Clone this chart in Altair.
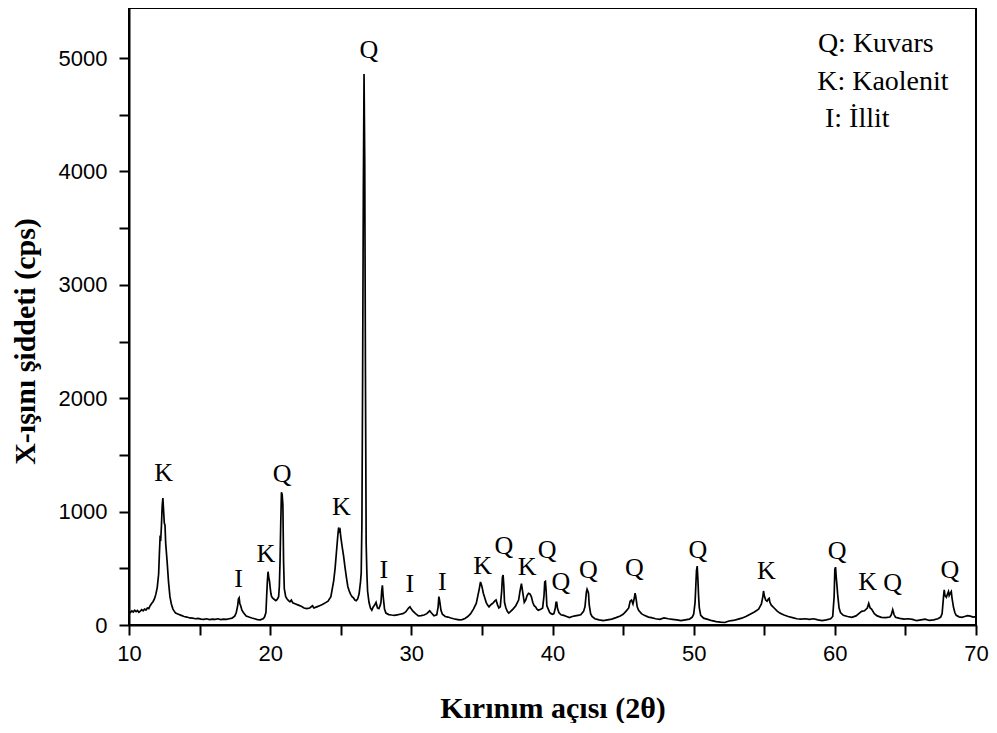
import altair as alt
import pandas as pd

# ---- XRD trace ----
two_theta = [
    10.0, 10.1, 10.2, 10.3, 10.4, 10.5, 10.6, 10.7, 10.8, 10.9, 11.0, 11.1, 11.2, 11.3, 11.4, 11.5,
    11.6, 11.7, 11.8, 11.9, 12.0, 12.1, 12.15, 12.2, 12.25, 12.3, 12.35, 12.4, 12.45, 12.5, 12.55,
    12.6, 12.7, 12.8, 12.9, 13.0, 13.1, 13.2, 13.3, 13.5, 13.7, 13.9, 14.1, 14.3, 14.5, 14.7, 14.9,
    15.1, 15.3, 15.5, 15.7, 15.9, 16.1, 16.3, 16.5, 16.7, 16.9, 17.1, 17.3, 17.5, 17.6, 17.7, 17.75,
    17.8, 17.85, 17.9, 18.0, 18.1, 18.2, 18.3, 18.5, 18.7, 18.9, 19.1, 19.3, 19.5, 19.6, 19.7, 19.75,
    19.8, 19.85, 19.9, 19.95, 20.0, 20.05, 20.1, 20.2, 20.3, 20.4, 20.5, 20.6, 20.65, 20.7, 20.75,
    20.8, 20.85, 20.9, 20.95, 21.0, 21.1, 21.2, 21.3, 21.4, 21.5, 21.6, 21.8, 22.0, 22.2, 22.4, 22.6,
    22.8, 23.0, 23.1, 23.3, 23.5, 23.7, 23.9, 24.1, 24.3, 24.5, 24.6, 24.7, 24.8, 24.85, 24.9, 24.95,
    25.0, 25.1, 25.2, 25.3, 25.4, 25.5, 25.6, 25.7, 25.8, 25.9, 26.0, 26.1, 26.2, 26.3, 26.4, 26.45,
    26.5, 26.55, 26.6, 26.65, 26.7, 26.75, 26.8, 26.85, 26.9, 27.0, 27.1, 27.2, 27.3, 27.4, 27.5,
    27.6, 27.7, 27.8, 27.85, 27.9, 27.95, 28.0, 28.05, 28.1, 28.2, 28.4, 28.6, 28.8, 29.0, 29.2,
    29.4, 29.6, 29.8, 29.9, 30.0, 30.1, 30.3, 30.5, 30.7, 30.9, 31.1, 31.3, 31.4, 31.6, 31.8, 31.9,
    31.95, 32.0, 32.1, 32.2, 32.4, 32.6, 32.8, 33.0, 33.2, 33.4, 33.6, 33.8, 34.0, 34.2, 34.4, 34.6,
    34.7, 34.8, 34.9, 35.0, 35.1, 35.2, 35.3, 35.4, 35.5, 35.6, 35.7, 35.8, 35.9, 36.0, 36.1, 36.2,
    36.3, 36.4, 36.45, 36.5, 36.55, 36.6, 36.7, 36.8, 36.9, 37.0, 37.2, 37.4, 37.6, 37.7, 37.8, 37.9,
    38.0, 38.1, 38.2, 38.3, 38.4, 38.5, 38.6, 38.7, 38.8, 38.9, 39.0, 39.2, 39.3, 39.4, 39.45, 39.5,
    39.55, 39.6, 39.7, 39.8, 39.9, 40.0, 40.1, 40.2, 40.25, 40.3, 40.35, 40.45, 40.6, 40.8, 41.0,
    41.2, 41.4, 41.6, 41.8, 42.0, 42.2, 42.3, 42.4, 42.45, 42.5, 42.55, 42.6, 42.7, 42.8, 43.0, 43.3,
    43.6, 43.9, 44.2, 44.5, 44.8, 45.0, 45.2, 45.4, 45.5, 45.6, 45.7, 45.8, 45.85, 45.9, 46.0, 46.1,
    46.3, 46.5, 46.8, 47.0, 47.3, 47.6, 47.9, 48.2, 48.5, 48.8, 49.1, 49.4, 49.7, 49.9, 50.0, 50.1,
    50.15, 50.2, 50.25, 50.3, 50.35, 50.4, 50.5, 50.7, 51.0, 51.3, 51.6, 51.9, 52.2, 52.5, 52.8,
    53.1, 53.4, 53.7, 54.0, 54.3, 54.6, 54.8, 54.9, 54.95, 55.0, 55.1, 55.2, 55.3, 55.35, 55.4, 55.5,
    55.7, 55.9, 56.1, 56.4, 56.7, 57.0, 57.3, 57.6, 57.9, 58.2, 58.5, 58.8, 59.1, 59.4, 59.7, 59.85,
    59.95, 60.0, 60.05, 60.1, 60.15, 60.2, 60.3, 60.4, 60.6, 60.9, 61.2, 61.5, 61.7, 61.9, 62.1,
    62.3, 62.4, 62.5, 62.6, 62.8, 63.0, 63.3, 63.6, 63.9, 64.0, 64.1, 64.2, 64.3, 64.6, 64.9, 65.2,
    65.5, 65.8, 66.1, 66.4, 66.7, 67.0, 67.3, 67.5, 67.6, 67.7, 67.75, 67.8, 67.9, 68.0, 68.05,
    68.1, 68.2, 68.25, 68.3, 68.4, 68.5, 68.6, 68.8, 69.0, 69.2, 69.4, 69.6, 69.8, 70.0,
]
intensity = [
    120, 110, 125, 115, 130, 118, 128, 112, 122, 135, 125, 140, 132, 150, 145, 170,
    190, 205, 230, 270, 330, 450, 620, 770, 760, 880, 1050, 1120, 1010, 900, 880,
    720, 560, 380, 250, 185, 145, 122, 105, 95, 85, 75, 70, 62, 60, 55, 58,
    52, 50, 55, 48, 52, 50, 55, 48, 52, 50, 55, 60, 80, 110, 170, 230,
    240, 190, 175, 130, 110, 95, 80, 70, 62, 55, 48, 45, 55, 70, 110, 250,
    380, 470, 420, 390, 330, 280, 250, 235, 225, 215, 225, 250, 340, 560, 900,
    1170, 1150, 1060, 560, 320, 250, 230, 215, 205, 220, 195, 185, 175, 165, 150, 145,
    150, 170, 150, 160, 170, 180, 195, 210, 250, 390, 500, 650, 800, 860, 830, 840,
    780, 690, 610, 510, 420, 340, 300, 270, 250, 240, 220, 215, 230, 275, 380, 460,
    900, 2200, 3800, 4860, 4080, 2200, 720, 460, 300, 200, 150, 130, 160, 175, 200,
    150, 145, 175, 200, 300, 350, 260, 200, 140, 105, 92, 88, 85, 90, 95,
    100, 115, 150, 160, 140, 125, 100, 80, 82, 88, 100, 125, 110, 82, 90, 160,
    250, 220, 130, 95, 75, 70, 62, 55, 50, 45, 48, 58, 75, 100, 140, 190,
    250, 310, 380, 340, 280, 240, 200, 175, 160, 175, 185, 195, 210, 220, 180, 150,
    160, 300, 420, 440, 350, 200, 150, 120, 105, 115, 140, 170, 220, 300, 365, 280,
    200, 220, 260, 280, 275, 250, 200, 170, 160, 140, 130, 140, 150, 260, 380, 385,
    300, 170, 140, 110, 100, 95, 100, 150, 200, 200, 150, 110, 90, 85, 75,
    65, 75, 80, 85, 90, 120, 160, 290, 315, 300, 280, 180, 100, 75, 55, 45,
    38, 45, 52, 65, 80, 95, 120, 150, 210, 220, 185, 240, 280, 250, 160, 130,
    100, 85, 70, 65, 55, 50, 62, 55, 50, 45, 38, 45, 52, 70, 95, 200,
    340, 480, 520, 400, 250, 150, 85, 60, 50, 38, 30, 25, 22, 35, 40,
    50, 60, 75, 95, 115, 140, 185, 250, 300, 260, 220, 210, 230, 235, 200, 175,
    150, 125, 105, 88, 75, 65, 55, 52, 55, 50, 55, 45, 38, 45, 55, 75,
    250, 490, 510, 420, 350, 270, 150, 110, 85, 75, 68, 80, 100, 120, 125,
    150, 190, 150, 140, 100, 80, 68, 65, 70, 90, 135, 90, 68, 58, 52, 55,
    50, 38, 45, 52, 40, 45, 55, 70, 100, 250, 310, 260, 245, 280, 295,
    260, 285, 295, 240, 160, 110, 85, 72, 68, 75, 82, 78, 70, 74,
]

# ---- phase labels over the peaks ----
label_text = ["K", "I", "K", "Q", "K", "Q", "I", "I", "I", "K", "Q",
              "K", "Q", "Q", "Q", "Q", "Q", "K", "Q", "K", "Q", "Q"]
label_x = [12.45, 17.77, 19.7, 20.85, 25.05, 27.0, 28.05, 29.9, 32.2, 35.05, 36.55,
           38.2, 39.62, 40.6, 42.55, 45.8, 50.3, 55.15, 60.17, 62.32, 64.1, 68.15]
label_y = [1338, 406, 628, 1334, 1040, 5070, 485, 362, 382, 522, 700,
           512, 661, 382, 485, 500, 661, 473, 655, 379, 373, 485]

legend_text = ["Q: Kuvars", "K: Kaolenit", "I: İllit"]
legend_x = [58.8, 58.75, 59.3]
legend_y = [5053, 4718, 4392]

# all tick positions: labelled every 10 / 1000, unlabelled ticks in between
x_ticks = [10, 15, 20, 25, 30, 35, 40, 45, 50, 55, 60, 65, 70]
y_ticks = [0, 500, 1000, 1500, 2000, 2500, 3000, 3500, 4000, 4500, 5000]

W, H = 847, 617
xs = alt.Scale(domain=[10, 70], nice=False, zero=False)
ys = alt.Scale(domain=[0, 5441], nice=False, zero=False)

x_axis = alt.Axis(
    values=x_ticks, title="Kırınım  açısı (2θ)", labelPadding=8, tickSize=10,
    labelExpr="datum.value % 10 === 0 ? datum.label : ''",
    labelFlush=False, labelOverlap=False, format="d", orient="bottom",
    titleX=W / 2, titleY=92, titleBaseline="alphabetic", titleAlign="center")
y_axis = alt.Axis(
    values=y_ticks, title="X-ışını şiddeti (cps)", labelPadding=12, tickSize=10,
    labelExpr="datum.value % 1000 === 0 ? datum.label : ''",
    labelFlush=False, labelOverlap=False, format="d", orient="left",
    titleX=-95, titleY=333, titleAngle=270, titleBaseline="alphabetic",
    titleAlign="center")

trace = pd.DataFrame({"x": two_theta, "y": intensity})
labels = pd.DataFrame({"x": label_x, "y": label_y, "t": label_text})
legend = pd.DataFrame({"x": legend_x, "y": legend_y, "t": legend_text})

line = alt.Chart(trace).mark_line(color="black", strokeWidth=1.7).encode(
    x=alt.X("x:Q", scale=xs, axis=x_axis),
    y=alt.Y("y:Q", scale=ys, axis=y_axis),
)

peak_labels = alt.Chart(labels).mark_text(
    font="Liberation Serif", fontSize=26, color="black", baseline="middle", align="center"
).encode(
    x=alt.X("x:Q", scale=xs, axis=None),
    y=alt.Y("y:Q", scale=ys, axis=None),
    text="t:N",
)

legend_layer = alt.Chart(legend).mark_text(
    font="Liberation Serif", fontSize=28, color="black", baseline="alphabetic", align="left"
).encode(
    x=alt.X("x:Q", scale=xs, axis=None),
    y=alt.Y("y:Q", scale=ys, axis=None),
    text="t:N",
)

chart = alt.layer(line, peak_labels, legend_layer).resolve_axis(
    x="independent", y="independent"
).properties(
    width=W, height=H,
    autosize=alt.AutoSizeParams(type="none"),
    padding={"left": 121, "top": 0, "right": 13, "bottom": 98},
).configure_view(
    stroke="black", strokeWidth=2
).configure_axis(
    grid=False,
    domainColor="black", domainWidth=2,
    tickColor="black", tickWidth=2,
    labelFont="Liberation Sans", labelFontSize=22, labelColor="black",
    titleFont="Liberation Serif", titleFontSize=30, titleFontWeight="bold",
    titleColor="black",
)

chart.save("out.html", embed_options={"renderer": "svg", "actions": False})
